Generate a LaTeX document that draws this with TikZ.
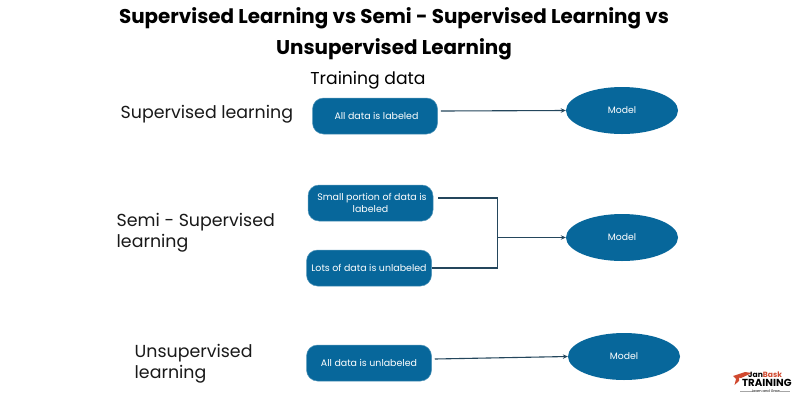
\documentclass[tikz,border=0pt]{standalone}
\usepackage{fontspec}
\setmainfont{Poppins}
\usetikzlibrary{arrows.meta,shapes.geometric}
\definecolor{boxblue}{HTML}{07679B}
\definecolor{linecol}{HTML}{24465C}
\definecolor{capred}{HTML}{D0492F}
\tikzset{
 x=1pt,y=-1pt,
 databox/.style={draw=boxblue!70!white,line width=0.5pt,fill=boxblue,rounded corners=11pt,text=white,font=\fontsize{9.45}{12.5}\selectfont,align=center,inner sep=0pt,minimum height=36pt},
 modelnode/.style={ellipse,fill=boxblue,text=white,font=\fontsize{9.3}{12}\selectfont,minimum width=112pt,minimum height=47pt,inner sep=0pt},
 rowlabel/.style={font=\fontsize{17.4}{21}\selectfont,align=left,anchor=west,inner sep=0pt,text=black!90},
 titletext/.style={font=\fontsize{19.9}{31}\selectfont\bfseries,align=center,inner sep=0pt},
 link/.style={draw=linecol,line width=1.1pt},
 tipped/.style={link,-{Stealth[length=5pt,width=4.5pt]}},
 logoline/.style={draw=black!35,line width=0.4pt},
}
\begin{document}
\begin{tikzpicture}
\useasboundingbox (0,0) rectangle (800,400);
\fill[white] (0,0) rectangle (800,400);
\node[titletext] (title) at (394,34) {Supervised Learning vs Semi - Supervised Learning vs\\Unsupervised Learning};
\node[font=\fontsize{17.2}{21}\selectfont,inner sep=0pt] (train) at (368,80) {Training data};
\node[rowlabel] (l1) at (120.5,114.5) {Supervised learning};
\node[rowlabel] (l2) at (116.5,232.5) {Semi - Supervised\\learning};
\node[rowlabel] (l3) at (134.5,364) {Unsupervised\\learning};
\node[databox,minimum width=125pt] (a1) at (375,116) {\hspace*{3pt}All data is labeled};
\node[databox,minimum width=125pt] (a2) at (370.5,203) {\hspace*{3pt}Small portion of data is\\labeled};
\node[databox,minimum width=125pt] (a3) at (369,268) {Lots of data is unlabeled};
\node[databox,minimum width=125pt] (a4) at (369,363) {All data is unlabeled};
\node[modelnode] (m1) at (622,110.5) {Model};
\node[modelnode] (m2) at (622,237.5) {Model};
\node[modelnode] (m3) at (624,356.5) {Model};
\coordinate (j) at (497.5,237.5);
\coordinate (s1) at ([xshift=3pt,yshift=5pt]a1.east);
\coordinate (s2) at ([xshift=5pt,yshift=5pt]a2.east);
\coordinate (s4) at ([xshift=3pt,yshift=4pt]a4.east);
\draw[tipped] (s1) -- (m1.west);
\draw[link] (s2) -| (j);
\draw[link] (a3.east) -| (j);
\draw[tipped] (j) -- (m2.west);
\draw[tipped] (s4) -- (m3.west);
% logo
\fill[capred] (733,376) -- (745,372) -- (752,373) -- (741,378) -- (739,377.5) -- (739,381) -- (734.5,385) -- (736,379) -- cycle;
\node[font=\fontsize{7.6}{8}\selectfont\bfseries,inner sep=0pt,anchor=west] (lg1) at (748,375) {Jan\textcolor{capred}{Bask}};
\node[font=\fontsize{10.2}{11}\selectfont\bfseries,inner sep=0pt,anchor=west] (lg2) at (742,383) {TRAINING};
\node[font=\fontsize{3.6}{4}\selectfont,inner sep=0pt] (lg3) at (766,391) {Learn and Grow};
\coordinate (d1) at (740,391);
\coordinate (d2) at (790,391);
\draw[logoline] (d1) -- (lg3.west);
\draw[logoline] (lg3.east) -- (d2);
\end{tikzpicture}
\end{document}
